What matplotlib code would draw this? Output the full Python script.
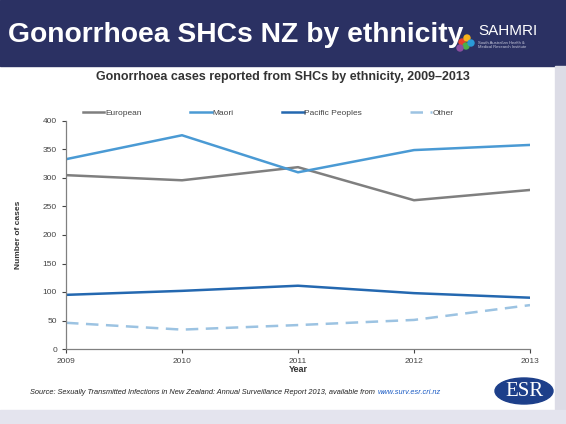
import matplotlib.pyplot as plt
from matplotlib.patches import Rectangle, Ellipse

plt.rcParams['font.family'] = ['Liberation Sans', 'DejaVu Sans']

years = [2009, 2010, 2011, 2012, 2013]
european = [305, 296, 319, 261, 279]
maori = [333, 375, 310, 349, 358]
pacific = [95, 102, 111, 98, 90]
other = [46, 34, 42, 51, 77]


def run_main():
    fig = plt.figure(figsize=(5.66, 4.24), dpi=100)
    fig.patch.set_facecolor('white')

    # slide background bits
    fig.patches.append(Rectangle((0, 1 - 66 / 424), 1, 66 / 424, transform=fig.transFigure,
                                 color='#2b3163', zorder=0))
    fig.patches.append(Rectangle((555 / 566, 0), 11 / 566, 1 - 66 / 424, transform=fig.transFigure,
                                 color='#dcdce6', zorder=0))
    fig.patches.append(Rectangle((0, 0), 1, 14 / 424, transform=fig.transFigure,
                                 color='#e4e4ee', zorder=0))

    fig.text(8 / 566, 1 - 35 / 424, 'Gonorrhoea SHCs NZ by ethnicity', color='white',
             fontsize=20.3, fontweight='bold', va='center', ha='left')
    fig.text(478 / 566, 1 - 31 / 424, 'SAHMRI', color='white', fontsize=11, va='center', ha='left')
    fig.text(478 / 566, 1 - 45 / 424, 'South Australian Health &\nMedical Research Institute',
             color='#c8cadc', fontsize=3, va='center', ha='left', linespacing=1.0)
    for c, dx, dy in [('#e8412c', 462, 42), ('#f7b21b', 467, 38), ('#4bb04a', 466, 46),
                      ('#2a9bd7', 471, 43), ('#8b4ea0', 460, 48)]:
        fig.patches.append(Ellipse((dx / 566, 1 - dy / 424), 6 / 566, 6 / 424,
                                   transform=fig.transFigure, color=c, zorder=1))

    ax = fig.add_axes([66 / 566, 1 - 349 / 424, 464 / 566, 228 / 424])
    ax.plot(years, european, color='#7f7f7f', lw=1.8, label='European')
    ax.plot(years, maori, color='#4a9ad4', lw=1.8, label='Maori')
    ax.plot(years, pacific, color='#2468b0', lw=1.8, label='Pacific Peoples')
    ax.plot(years, other, color='#9cc3e2', lw=1.8, ls=(0, (5, 3)), label='Other')

    ax.set_xlim(2009, 2013)
    ax.set_ylim(0, 400)
    ax.set_xticks(years)
    ax.set_yticks(range(0, 401, 50))
    ax.tick_params(labelsize=6, colors='#444444', length=3, width=0.8)
    for s in ['top', 'right']:
        ax.spines[s].set_visible(False)
    for s in ['left', 'bottom']:
        ax.spines[s].set_color('#808080')
        ax.spines[s].set_linewidth(0.9)

    ax.set_xlabel('Year', fontsize=6.5, fontweight='bold', color='#333333', labelpad=0)
    ax.set_ylabel('Number of cases', fontsize=6, fontweight='bold', color='#333333', labelpad=15)

    ax.legend(loc='lower left', bbox_to_anchor=(0.025, 0.995), ncol=4, frameon=False,
              fontsize=6, handlelength=2.6, handletextpad=0.1, columnspacing=5.8,
              labelcolor='#444444', borderaxespad=0.2)

    fig.text(283 / 566, 1 - 77 / 424, 'Gonorrhoea cases reported from SHCs by ethnicity, 2009\u20132013',
             fontsize=9, fontweight='bold', color='#333333', ha='center', va='center')

    fig.text(30 / 566, 1 - 392 / 424,
             'Source: Sexually Transmitted Infections in New Zealand: Annual Surveillance Report 2013, available from',
             fontsize=5.3, style='italic', color='#222222', ha='left', va='center')
    fig.text(378 / 566, 1 - 392 / 424, 'www.surv.esr.cri.nz', fontsize=5.3, style='italic',
             color='#1a5bc4', ha='left', va='center')

    fig.patches.append(Ellipse((524 / 566, 1 - 391 / 424), 58 / 566, 26 / 424,
                               transform=fig.transFigure, color='#1d3f8a', zorder=1))
    fig.text(524 / 566, 1 - 391 / 424, 'ESR', fontsize=15, color='white',
             family='Liberation Serif', ha='center', va='center', zorder=2)

    fig.savefig('out.png', dpi=100)


if __name__ == "__main__":
    run_main()
